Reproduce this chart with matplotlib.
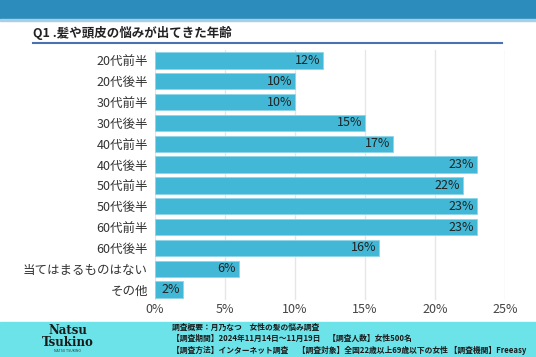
import matplotlib.pyplot as plt
from matplotlib.patches import Rectangle
from matplotlib.lines import Line2D

plt.rcParams['font.family'] = ['Noto Sans CJK JP', 'DejaVu Sans']

# データ
categories = ["20代前半", "20代後半", "30代前半", "30代後半", "40代前半", "40代後半",
              "50代前半", "50代後半", "60代前半", "60代後半", "当てはまるものはない", "その他"]
values = [12, 10, 10, 15, 17, 23, 22, 23, 23, 16, 6, 2]
ticks = [0, 5, 10, 15, 20, 25]

title = "Q1 .髪や頭皮の悩みが出てきた年齢"
footer_lines = [
    "調査概要：月乃なつ　女性の髪の悩み調査",
    "【調査期間】2024年11月14日～11月19日　【調査人数】女性500名",
    "【調査方法】インターネット調査　 【調査対象】全国22歳以上69歳以下の女性 【調査機関】Freeasy",
]

W, H = 536, 357
fig = plt.figure(figsize=(W / 100, H / 100), dpi=100)

# 上の帯と下の帯
fig.patches.append(Rectangle((0, 1 - 19 / H), 1, 19 / H, transform=fig.transFigure,
                             color="#2c8cbb", zorder=0))
fig.patches.append(Rectangle((0, 1 - 21 / H), 1, 2 / H, transform=fig.transFigure,
                             color="#a9cfe6", zorder=0))
fig.patches.append(Rectangle((0, 0), 1, 35 / H, transform=fig.transFigure,
                             color="#6ce3e9", zorder=0))

# タイトル
fig.text(33 / W, 1 - 33 / H, title, fontsize=9, fontweight="bold", color="#222222",
         va="center", ha="left")
fig.lines.append(Line2D([33 / W, 502 / W], [1 - 42.5 / H, 1 - 42.5 / H],
                        transform=fig.transFigure, color="#4a72b0", lw=1.5))

# グラフ本体
ax = fig.add_axes([155 / W, 1 - 300 / H, 350 / W, 250 / H])
y = range(len(categories))
ax.barh(y, values, height=0.78, color="#42b8d6", edgecolor="#8fd6e8", linewidth=0.6, zorder=2)
for i, v in enumerate(values):
    ax.text(v - 0.2, i, f"{v}%", ha="right", va="center", fontsize=9, color="#222222", zorder=3)

ax.set_xlim(0, 25)
ax.set_ylim(len(categories) - 0.5, -0.5)
ax.set_yticks(list(y))
ax.set_yticklabels(categories, fontsize=9, color="#333333")
ax.set_xticks(ticks)
ax.set_xticklabels([f"{t}%" for t in ticks], fontsize=9, color="#444444")
ax.tick_params(length=0, pad=5)
ax.tick_params(axis="x", pad=2)
ax.grid(axis="x", color="#e6e6e6", lw=1, zorder=0)
for s in ax.spines.values():
    s.set_visible(False)

# ロゴ
fig.text(68 / W, 1 - 330 / H, "Natsu", fontsize=8.5, fontweight="bold", family="DejaVu Serif",
         color="#1a1a1a", ha="center", va="center")
fig.text(68 / W, 1 - 342 / H, "Tsukino", fontsize=8.5, fontweight="bold", family="DejaVu Serif",
         color="#1a1a1a", ha="center", va="center")
fig.text(68 / W, 1 - 351 / H, "NATSU TSUKINO", fontsize=2.5, color="#333333",
         ha="center", va="center")

# フッター
for i, line in enumerate(footer_lines):
    fig.text(172 / W, 1 - (327 + i * 11.5) / H, line, fontsize=5.6, fontweight="bold",
             color="#1a1a1a", ha="left", va="center")

fig.savefig("out.png", dpi=100)
